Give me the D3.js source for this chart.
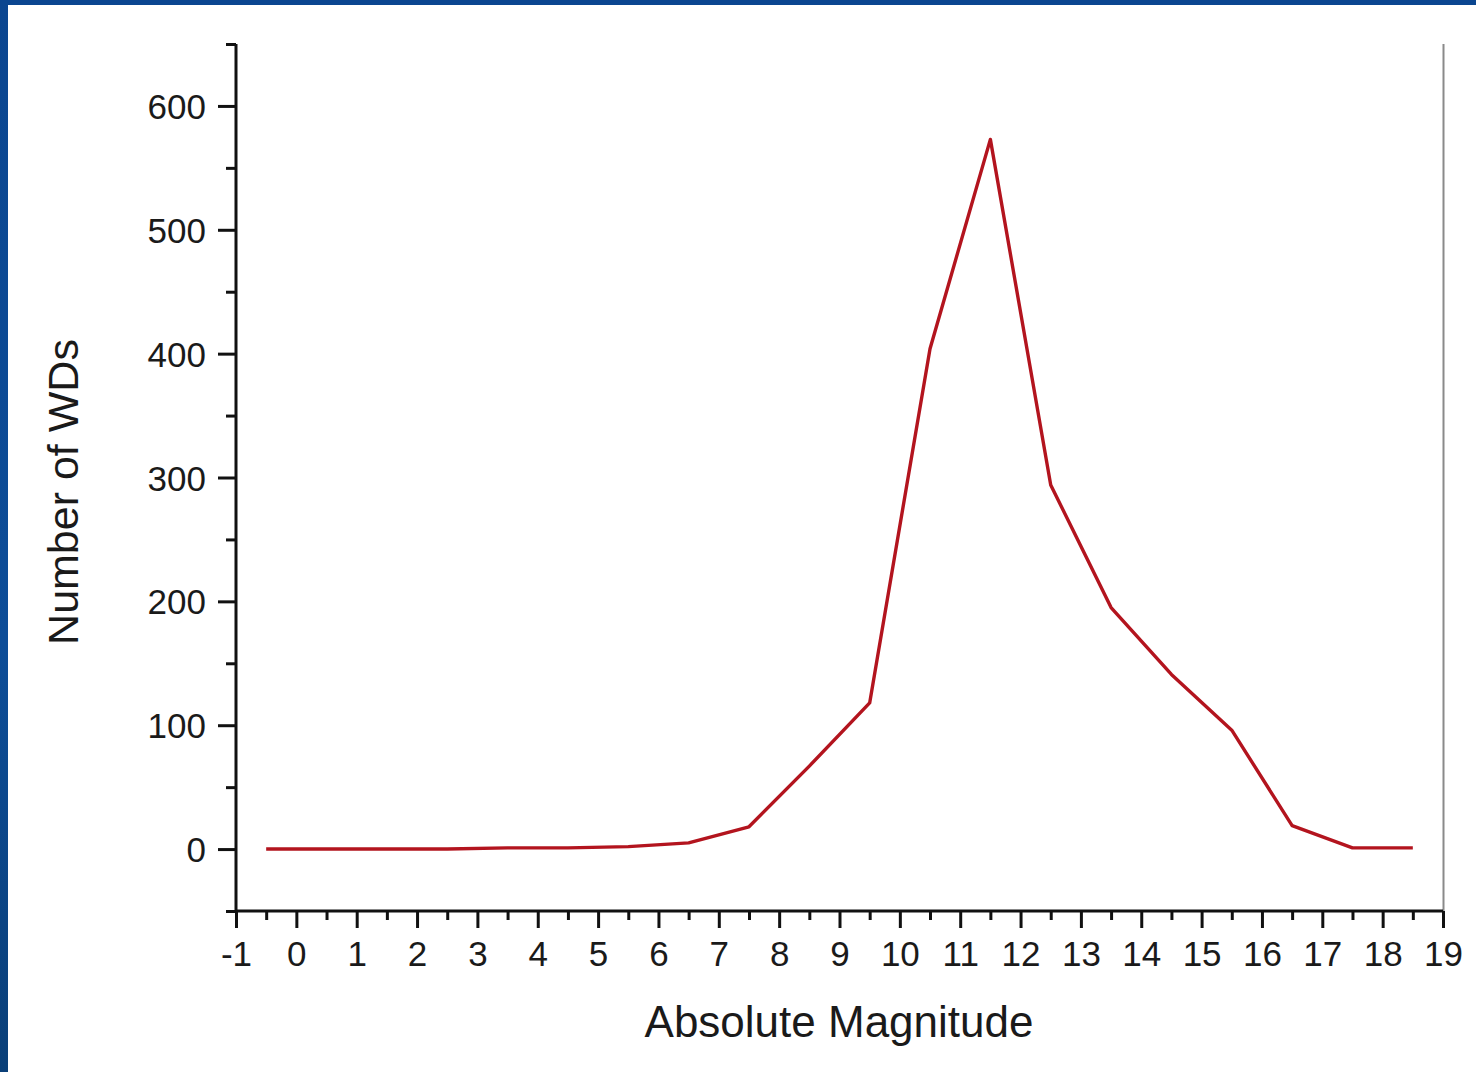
<!DOCTYPE html>
<html>
<head>
<meta charset="utf-8">
<script src="https://cdn.jsdelivr.net/npm/d3@7"></script>
<style>
  html, body { margin: 0; padding: 0; background: #0c4a93; }
  svg { display: block; }
  text { font-family: "Liberation Sans", Arial, sans-serif; fill: #1a1a1a; }
</style>
</head>
<body>
<script>
// Data
const magnitudes = [-0.5, 0.5, 1.5, 2.5, 3.5, 4.5, 5.5, 6.5, 7.5, 8.5, 9.5, 10.5, 11.5, 12.5, 13.5, 14.5, 15.5, 16.5, 17.5, 18.5];
const counts     = [0, 0, 0, 0, 1, 1, 2, 5, 18, 67, 118, 404, 573, 294, 195, 141, 96, 19, 1, 1];
const xTickLabels = [-1, 0, 1, 2, 3, 4, 5, 6, 7, 8, 9, 10, 11, 12, 13, 14, 15, 16, 17, 18, 19];
const yTickLabels = [0, 100, 200, 300, 400, 500, 600];
const xTitle = "Absolute Magnitude";
const yTitle = "Number of WDs";

(function () {
const W = 1476, H = 1072;
const svg = d3.select("body").append("svg").attr("width", W).attr("height", H);

// background + white panel
const defs = svg.append("defs");
const grad = defs.append("linearGradient").attr("id", "bg").attr("x1", 0).attr("y1", 0).attr("x2", 0).attr("y2", 1);
grad.append("stop").attr("offset", "0%").attr("stop-color", "#0b4690");
grad.append("stop").attr("offset", "60%").attr("stop-color", "#0d4d98");
grad.append("stop").attr("offset", "100%").attr("stop-color", "#0a3f78");
svg.append("rect").attr("width", W).attr("height", H).attr("fill", "url(#bg)");
svg.append("rect").attr("x", 8).attr("y", 5).attr("width", W - 8).attr("height", H - 5).attr("fill", "#ffffff");

const pLeft = 236, pRight = 1443, pTop = 44, pBottom = 911;
const x = d3.scaleLinear().domain([-1, 19]).range([pLeft, pRight]);
const y = d3.scaleLinear().domain([-50, 650]).range([pBottom, pTop]);

// right frame line
svg.append("line").attr("x1", pRight + 0.5).attr("x2", pRight + 0.5).attr("y1", pTop).attr("y2", pBottom)
  .attr("stroke", "#8a8a8a").attr("stroke-width", 2);

// Y axis: minor ticks every 50, major with labels every 100
const yMinor = d3.range(-50, 651, 50).filter(v => !yTickLabels.includes(v));
const gyMinor = svg.append("g").attr("transform", `translate(${pLeft},0)`)
  .call(d3.axisLeft(y).tickValues(yMinor).tickSize(10).tickFormat(""));
const gy = svg.append("g").attr("transform", `translate(${pLeft},0)`)
  .call(d3.axisLeft(y).tickValues(yTickLabels).tickSize(18).tickPadding(12).tickFormat(d3.format("d")));

// X axis
const xMinor = d3.range(-0.5, 19, 1);
const gxMinor = svg.append("g").attr("transform", `translate(0,${pBottom})`)
  .call(d3.axisBottom(x).tickValues(xMinor).tickSize(9).tickFormat(""));
const gx = svg.append("g").attr("transform", `translate(0,${pBottom})`)
  .call(d3.axisBottom(x).tickValues(xTickLabels).tickSize(17).tickPadding(10).tickFormat(d => String(d)));

[gy, gyMinor, gx, gxMinor].forEach(g => {
  g.selectAll(".domain").attr("stroke", "#111").attr("stroke-width", 3);
  g.selectAll(".tick line").attr("stroke", "#111").attr("stroke-width", 3);
  g.selectAll(".tick text").style("font-family", '"Liberation Sans", Arial, sans-serif')
    .style("font-size", "35px").attr("fill", "#1a1a1a");
});
gy.select(".domain").attr("d", `M0,${pTop}V${pBottom}`);
gyMinor.select(".domain").remove();
gxMinor.select(".domain").remove();
gx.select(".domain").attr("d", `M${pLeft},0H${pRight}`);
gy.selectAll(".tick text").attr("dy", "0.36em");
gx.selectAll(".tick text").attr("dy", "0.8em");

// line
const line = d3.line().x((d, i) => x(magnitudes[i])).y(d => y(d));
svg.append("path").datum(counts).attr("d", line)
  .attr("fill", "none").attr("stroke", "#b3141e").attr("stroke-width", 3.4)
  .attr("stroke-linejoin", "round");

// titles
svg.append("text").attr("x", 839).attr("y", 1037).attr("text-anchor", "middle")
  .style("font-size", "44px").text(xTitle);
svg.append("text").attr("transform", `translate(78,492) rotate(-90)`).attr("text-anchor", "middle")
  .style("font-size", "43px").text(yTitle);
})();
</script>
</body>
</html>
